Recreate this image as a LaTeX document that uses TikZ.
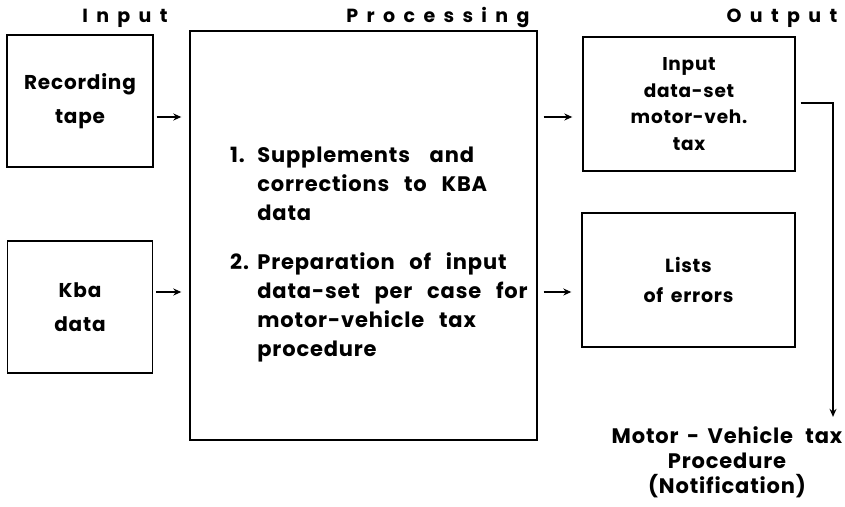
\documentclass[tikz,border=0pt]{standalone}
\usepackage{fontspec}
\setmainfont{Poppins}
\newfontfamily\bodyfont{Poppins}[LetterSpace=4]
\newfontfamily\headfont{Poppins}[LetterSpace=44]
\newcommand\widegaps[1]{\spaceskip=#1em\relax}
\usetikzlibrary{arrows.meta,positioning}

\begin{document}
\begin{tikzpicture}[x=1pt,y=-1pt, box/.style={draw,line width=1.4pt,inner sep=0pt,align=center}, inbox/.style={box,font=\bodyfont\bfseries\fontsize{20}{34}\selectfont}, outbox/.style={box,font=\bodyfont\bfseries\fontsize{18.5}{26.5}\selectfont}, head/.style={font=\headfont\bfseries\fontsize{19}{20}\selectfont}, arr/.style={->,line width=1.8pt}, >={Stealth[length=8pt,width=7pt]}]
\useasboundingbox (0,0) rectangle (845,506);
\node[head] (hin) at (125,18) {Input};
\node[head] (hproc) at (438,18) {Processing};
\node[head] (hout) at (782,18) {Output};
\node[inbox,minimum width=146pt,minimum height=132pt] (tape) at (80,101) {Recording\\tape};
\node[inbox,minimum width=145pt,minimum height=132pt] (kba) at (80,307) {Kba\\data};
\node[box,minimum width=347pt,minimum height=409pt] (proc) at (363.5,235.5) {};
\node[anchor=north west,inner sep=0pt,font=\bodyfont\bfseries\fontsize{21}{29}\selectfont\widegaps{0.7}] (steps) at (230,142) {\begin{tabular}{@{}l@{\hspace{.4em}}l@{}}
1. & Supplements\hspace{5pt} and\\
 & corrections to KBA\\
 & data\\[20pt]
2. & Preparation of input\\
 & data-set per case for\\
 & motor-vehicle tax\\
 & procedure
\end{tabular}};
\node[outbox,minimum width=212pt,minimum height=134pt] (dset) at (689,104) {Input\\data-set\\motor-veh.\\tax};
\node[outbox,minimum width=213pt,minimum height=134pt,font=\bodyfont\bfseries\fontsize{19}{30}\selectfont\widegaps{0.4}] (errs) at (688.5,280) {Lists\\of errors};
\node[align=center,font=\bodyfont\bfseries\fontsize{21}{25}\selectfont\widegaps{0.4}] (proced) at (727,462) {Motor - Vehicle\hspace{4pt} tax\\Procedure\\(Notification)};
% arrows into and out of the processing step
\coordinate (r1) at ([yshift=-16pt]tape.east);
\coordinate (r2) at ([yshift=15pt]kba.east);
\draw[arr,shorten <=3pt,shorten >=8pt] (r1) -- (r1 -| proc.west);
\draw[arr,shorten <=3pt,shorten >=8pt] (r2) -- (r2 -| proc.west);
\draw[arr,shorten <=6pt,shorten >=10pt] (r1 -| proc.east) -- (r1 -| dset.west);
\draw[arr,shorten <=6pt,shorten >=10pt] (r2 -| proc.east) -- (r2 -| errs.west);
\coordinate (turn) at (833,103);
\draw[arr,shorten >=6pt] ([xshift=5pt]dset.east |- turn) -- (turn) -- (turn |- proced.north);
\end{tikzpicture}
\end{document}
